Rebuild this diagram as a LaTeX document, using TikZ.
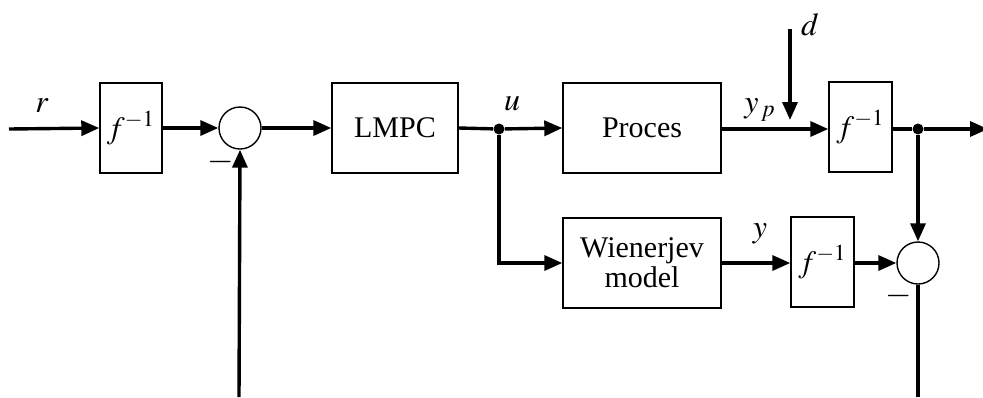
\documentclass[tikz,border=0pt]{standalone}
\usepackage{mathptmx}
\usepackage{fontspec}
\setmainfont{Liberation Serif}
\usetikzlibrary{arrows.meta}

% inverse static nonlinearity, set in Times math
\newcommand{\finv}{{\fontsize{15.5}{15.5}\selectfont$f^{-1}$}}

\tikzset{
  blk/.style={draw, line width=0.7pt, inner sep=0pt, minimum height=45pt,
              align=center, font=\fontsize{15}{15}\selectfont},
  sumnode/.style={draw, circle, line width=0.7pt, inner sep=0pt, minimum size=21pt},
  sig/.style={line width=1.7pt, -{Triangle[length=9pt,width=7.5pt]}},
  wire/.style={line width=1.7pt},
  dot/.style={circle, fill, inner sep=0pt, minimum size=5.5pt},
  lab/.style={font=\fontsize{16}{16}\selectfont, inner sep=0pt},
  neg/.style={font=\fontsize{17}{17}\selectfont, inner sep=0pt}
}

\begin{document}
\begin{tikzpicture}[x=0.5pt, y=-0.5pt]
  \useasboundingbox (0,0) rectangle (983,397);

  % blocks
  \node[blk, minimum width=31pt] (f1) at (131,128) {\finv};
  \node[sumnode] (s1) at (240,128) {};
  \node[blk, minimum width=63pt] (mpc) at (395,128) {LMPC};
  \node[blk, minimum width=79pt] (proc) at (642,128) {Proces};
  \node[blk, minimum width=31.5pt] (f2) at (860.5,127) {\finv};
  \node[blk, minimum width=79pt] (wm) at (642,263) {Wienerjev\\model};
  \node[blk, minimum width=31.5pt] (f3) at (822.5,262) {\finv};
  \node[sumnode] (s2) at (918,263) {};

  % branch points and free ends
  \node[dot] (ju) at (499,129) {};
  \node[dot] (jy) at (918,129) {};
  \coordinate (rin) at (9,129);
  \coordinate (out) at (988,129);
  \coordinate (dtop) at (790,29);
  \coordinate (dhit) at (790,129);
  \coordinate (fb1) at (239,397);
  \coordinate (fb2) at (918,397);

  % signal paths
  \draw[sig] (rin) -- (f1.west);
  \draw[sig] (f1.east) -- (s1.west);
  \draw[sig] (s1.east) -- (mpc.west);
  \draw[wire] (mpc.east) -- (ju);
  \draw[sig] (ju) -- (proc.west);
  \draw[sig] (proc.east |- ju) -- (f2.west |- ju);
  \draw[sig] (dtop) -- ([yshift=4.5pt]dhit);
  \draw[wire] (f2.east |- jy) -- (jy);
  \draw[sig] (jy) -- (out);
  \draw[sig] (ju) |- (wm.west);
  \draw[sig] (wm.east) -- (f3.west |- wm.east);
  \draw[sig] (f3.east |- s2) -- (s2.west);
  \draw[sig] (jy) -- (s2.north);
  \draw[sig] (fb1) -- (s1.south);
  \draw[wire] (s2.south) -- (fb2);

  % signal names and feedback signs
  \node[lab] (lr) at (42,106) {$r$};
  \node[lab] (lu) at (512,104) {$u$};
  \node[lab] (lyp) at (760,110) {$y_{\,p}$};
  \node[lab] (ld) at (810,25) {$d$};
  \node[lab] (ly) at (760,234) {$y$};
  \node[neg] (m1) at (221,162) {$-$};
  \node[neg] (m2) at (899,296) {$-$};
\end{tikzpicture}
\end{document}
